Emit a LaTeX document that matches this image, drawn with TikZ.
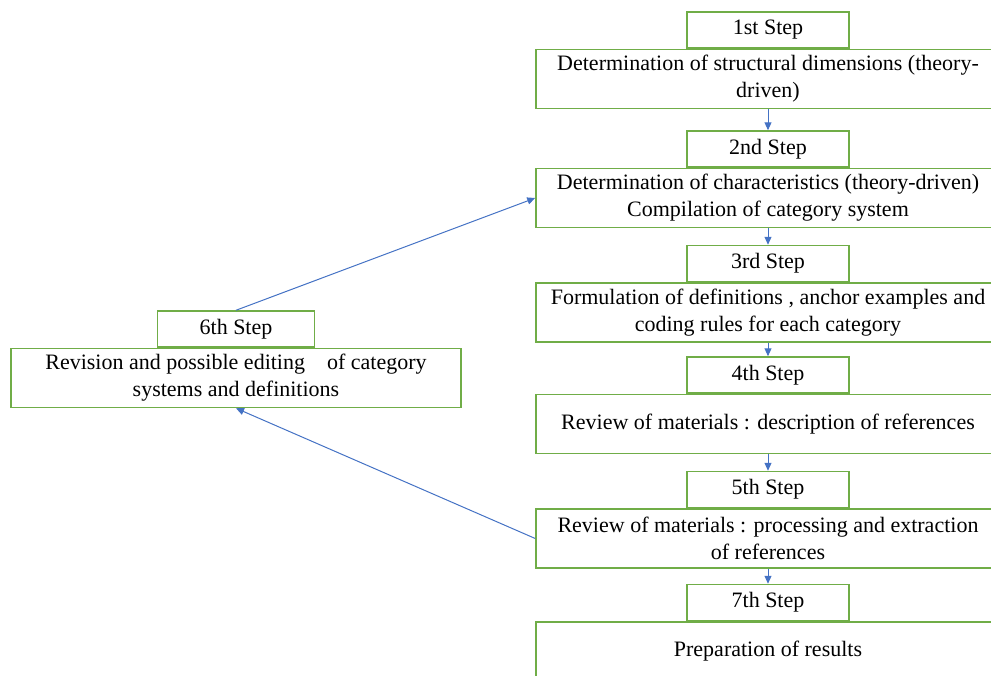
\documentclass[tikz,border=0pt]{standalone}
\usepackage{fontspec}
\setmainfont{Liberation Serif}
\usepackage{tikz}
\usetikzlibrary{arrows.meta, positioning}
\definecolor{stepgreen}{HTML}{70AD47}
\definecolor{flowblue}{HTML}{4472C4}

\begin{document}
\begin{tikzpicture}[
        x=0.5pt, y=-0.5pt,
        font=\fontsize{11}{13.5}\selectfont,
        every node/.style={align=center},
        body/.style={rectangle, draw=stepgreen, line width=0.75pt,
                     minimum width=232pt, minimum height=29.5pt, inner sep=0pt},
        head/.style={rectangle, draw=stepgreen, line width=0.75pt,
                     minimum width=81pt, minimum height=18pt, inner sep=0pt,
                     anchor=south},
        flow/.style={draw=flowblue, line width=0.5pt,
                     -{Triangle[width=3.5pt, length=4pt]}}
    ]
        \useasboundingbox (0,0) rectangle (991,675);

        % main column
        \node[body] (b1) at (768,79) {Determination of structural dimensions (theory-\\driven)};
        \node[head] (h1) at (b1.north) {1st Step};

        \node[body] (b2) at (768,198) {Determination of characteristics (theory-driven)\\Compilation of category system};
        \node[head] (h2) at (b2.north) {2nd Step};

        \node[body] (b3) at (768,312.5) {Formulation of definitions , anchor examples and\\coding rules for each category};
        \node[head] (h3) at (b3.north) {3rd Step};

        \node[body] (b4) at (768,424) {Review of materials : description of references};
        \node[head] (h4) at (b4.north) {4th Step};

        \node[body] (b5) at (768,538.5) {Review of materials : processing and extraction\\of references};
        \node[head] (h5) at (b5.north) {5th Step};

        \node[body] (b7) at (768,651.5) {Preparation of results};
        \node[head] (h7) at (b7.north) {7th Step};

        % revision loop
        \node[body, minimum width=225pt] (b6) at (236,378) {Revision and possible editing\quad of category\\systems and definitions};
        \node[head, minimum width=78.5pt] (h6) at (b6.north) {6th Step};

        \draw[flow] (b1.south) -- (h2.north);
        \draw[flow] (b2.south) -- (h3.north);
        \draw[flow] (b3.south) -- (h4.north);
        \draw[flow] (b4.south) -- (h5.north);
        \draw[flow] (b5.south) -- (h7.north);
        \draw[flow] (h6.north) -- (b2.west);
        \draw[flow] (b5.west) -- (b6.south);
    \end{tikzpicture}
\end{document}
